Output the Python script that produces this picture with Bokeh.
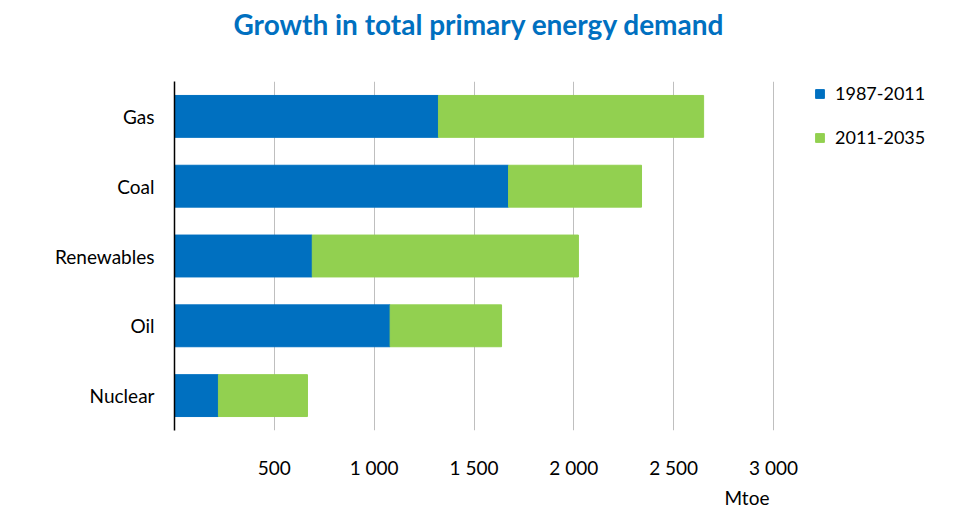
from bokeh.plotting import figure
from bokeh.models import FactorRange, Range1d, FixedTicker, Title
from bokeh.embed import file_html
from bokeh.resources import INLINE

# ---- data ----
categories = ["Nuclear", "Oil", "Renewables", "Coal", "Gas"]
period_1987_2011 = [220, 1080, 690, 1673, 1322]
period_2011_2035 = [446, 558, 1333, 666, 1328]
series_names = ["1987-2011", "2011-2035"]
tick_values = [500, 1000, 1500, 2000, 2500, 3000]
tick_labels = ["500", "1 000", "1 500", "2 000", "2 500", "3 000"]
title_text = "Growth in total primary energy demand"
unit_text = "Mtoe"

BLUE = "#0070C0"
GREEN = "#92D050"
FONT = "Lato"
FS = "19px"

# layout: plot frame from x=174 to the right edge (942); the 3000 gridline sits at x=773
FRAME_LEFT, FRAME_RIGHT, AXIS_3000_PX = 174, 942, 773
x_end = 3000 * (FRAME_RIGHT - FRAME_LEFT) / (AXIS_3000_PX - FRAME_LEFT)

data = {"cat": categories, series_names[0]: period_1987_2011, series_names[1]: period_2011_2035}

p = figure(width=942, height=510, output_backend="svg", toolbar_location=None,
           y_range=FactorRange(factors=categories), x_range=Range1d(0, x_end),
           min_border_left=FRAME_LEFT, min_border_right=0, min_border_top=81, min_border_bottom=76)
p.outline_line_color = None

p.hbar_stack(series_names, y="cat", height=0.6, color=[BLUE, GREEN], source=data,
             legend_label=series_names)

# spacer above the frame so the title sits near the top
p.add_layout(Title(text=" ", text_font_size="2px", standoff=36), "above")

# title
p.title.text = title_text
p.title.align = "left"
p.title.offset = 59
p.title.text_font = FONT
p.title.text_font_style = "bold"
p.title.text_font_size = "28px"
p.title.text_color = BLUE
p.title.standoff = 2

# axes
xa = p.xaxis[0]
xa.ticker = FixedTicker(ticks=tick_values)
xa.major_label_overrides = {v: l for v, l in zip(tick_values, tick_labels)}
xa.axis_line_color = None
xa.major_tick_line_color = None
xa.minor_tick_line_color = None
xa.major_tick_out = 0
xa.major_tick_in = 0
xa.major_label_standoff = 25
xa.major_label_text_font = FONT
xa.major_label_text_font_size = FS
xa.major_label_text_color = "#000000"

ya = p.yaxis[0]
ya.axis_line_color = "#000000"
ya.axis_line_width = 1.5
ya.major_tick_line_color = None
ya.minor_tick_line_color = None
ya.major_tick_out = 0
ya.major_tick_in = 0
ya.major_label_standoff = 20
ya.major_label_text_font = FONT
ya.major_label_text_font_size = FS
ya.major_label_text_color = "#000000"

p.xgrid.grid_line_color = "#BFBFBF"
p.xgrid.grid_line_width = 1
p.ygrid.grid_line_color = None

# unit label under the axis
p.add_layout(Title(text=unit_text, align="left", offset=550, text_font=FONT,
                   text_font_style="normal", text_font_size=FS, text_color="#000000",
                   standoff=4), "below")

# legend
lg = p.legend[0]
lg.location = (640, 282)
lg.border_line_color = None
lg.background_fill_alpha = 0
lg.padding = 0
lg.margin = 0
lg.glyph_width = 11
lg.glyph_height = 11
lg.label_standoff = 10
lg.spacing = 22
lg.label_text_font = FONT
lg.label_text_font_size = "18px"
lg.label_text_color = "#000000"

open("out.html", "w").write(file_html(p, INLINE))
